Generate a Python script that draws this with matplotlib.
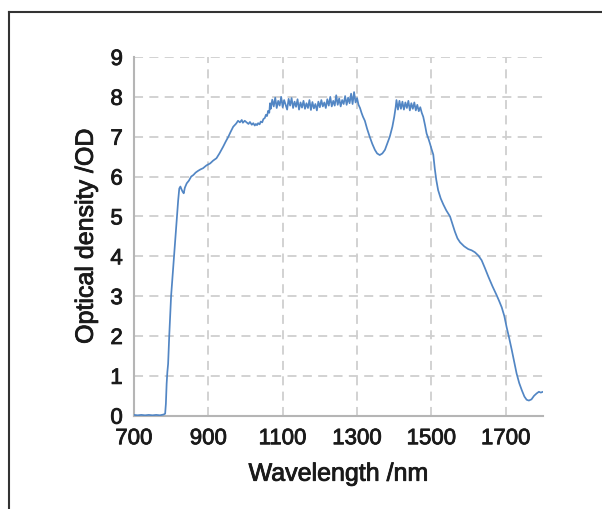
import matplotlib
matplotlib.use("Agg")
import matplotlib.pyplot as plt
from matplotlib.lines import Line2D
import matplotlib.patheffects as pe

# ---- data ----
wavelength = [
    700, 710, 720, 730, 740, 750, 760, 770, 780, 784,
    786, 788, 790, 792, 795, 800, 804, 808, 812, 816, 819, 822, 825, 828, 831, 834, 837,
    842, 848, 854, 860, 866, 872, 879, 886, 895, 905, 913, 922, 930, 940, 947, 954, 960,
    967, 975, 980, 985, 990, 993, 998, 1003, 1008, 1012, 1017, 1021, 1025, 1028, 1031,
    1034, 1038, 1041, 1045, 1048, 1052, 1055, 1058, 1061, 1064, 1066,
    1068, 1072, 1076, 1080, 1084, 1088, 1092, 1096, 1100, 1104, 1108, 1112, 1116, 1120,
    1124, 1128, 1132, 1136, 1140, 1144, 1148, 1152, 1156, 1160, 1164, 1168, 1172, 1176,
    1180, 1184, 1188, 1192, 1196, 1200, 1204, 1208, 1212, 1216, 1220, 1224, 1228, 1232,
    1236, 1240, 1244, 1248, 1252, 1256, 1260, 1264, 1268, 1272, 1276, 1280, 1284, 1288,
    1292, 1296, 1300, 1304, 1308,
    1312, 1316, 1321, 1327, 1334, 1341, 1348, 1354, 1361, 1368, 1375, 1381, 1388, 1395,
    1400, 1404,
    1406, 1410, 1414, 1418, 1422, 1426, 1430, 1434, 1438, 1442, 1446, 1450, 1454, 1458,
    1462, 1466, 1470, 1474,
    1478, 1483, 1487, 1492, 1496, 1500, 1505, 1509, 1513, 1518, 1525, 1532, 1540, 1550,
    1557, 1563, 1570, 1577, 1588, 1599, 1608, 1617, 1626, 1635, 1644, 1653, 1664, 1675,
    1682, 1689, 1696, 1702, 1709, 1716, 1723, 1729, 1736, 1743, 1750, 1756, 1762, 1769,
    1776, 1783, 1789, 1794, 1800,
]
optical_density = [
    0.02, 0.01, 0.02, 0.01, 0.02, 0.01, 0.02, 0.01, 0.03, 0.05,
    0.3, 0.8, 1.1, 1.3, 2.0, 3.0, 3.5, 4.0, 4.5, 5.0, 5.4, 5.7, 5.75, 5.68, 5.62, 5.58, 5.72,
    5.83, 5.9, 6.0, 6.04, 6.1, 6.14, 6.18, 6.21, 6.28, 6.33, 6.4, 6.46, 6.58, 6.75, 6.88, 7.0, 7.12,
    7.25, 7.33, 7.4, 7.36, 7.42, 7.35, 7.4, 7.36, 7.32, 7.37, 7.3, 7.34, 7.28, 7.32, 7.29,
    7.34, 7.31, 7.38, 7.36, 7.44, 7.47, 7.55, 7.52, 7.65, 7.6, 7.84,
    7.7, 7.93, 7.76, 7.98, 7.72, 7.9, 7.78, 8.0, 7.74, 7.92, 7.8, 7.68, 7.95, 7.78,
    7.97, 7.72, 7.88, 7.75, 7.94, 7.68, 7.86, 7.73, 7.9, 7.7, 7.84, 7.72, 7.92, 7.67,
    7.87, 7.71, 7.82, 7.66, 7.88, 7.74, 7.92, 7.76, 7.86, 7.72, 7.94, 7.78, 8.0, 7.76,
    7.9, 7.78, 8.04, 7.8, 7.96, 7.76, 7.92, 7.82, 8.02, 7.8, 7.98, 7.84, 8.08, 7.82,
    8.12, 7.86, 7.97, 7.8, 7.72,
    7.6, 7.5, 7.4, 7.2, 7.0, 6.82, 6.67, 6.58, 6.54, 6.58, 6.67, 6.82, 7.0, 7.25,
    7.5, 7.75,
    7.92, 7.68, 7.9, 7.7, 7.88, 7.68, 7.86, 7.72, 7.9, 7.66, 7.84, 7.7, 7.86, 7.66,
    7.8, 7.64, 7.74, 7.6,
    7.5, 7.28, 7.08, 6.95, 6.83, 6.7, 6.55, 6.2, 5.92, 5.66, 5.45, 5.3, 5.15, 5.0,
    4.8, 4.62, 4.45, 4.35, 4.25, 4.18, 4.15, 4.1, 4.02, 3.9, 3.7, 3.49, 3.25, 3.03,
    2.88, 2.72, 2.5, 2.23, 1.95, 1.65, 1.33, 1.06, 0.82, 0.64, 0.48, 0.4, 0.38, 0.41,
    0.5, 0.56, 0.6, 0.58, 0.6,
]
x_ticks = [700, 900, 1100, 1300, 1500, 1700]
y_ticks = [0, 1, 2, 3, 4, 5, 6, 7, 8, 9]
x_label = "Wavelength /nm"
y_label = "Optical density /OD"

plt.rcParams['font.family'] = ['Liberation Sans', 'DejaVu Sans']
text_color = '#1a1a1a'
bold_fx = [pe.withStroke(linewidth=0.6, foreground=text_color)]

fig = plt.figure(figsize=(6.02, 5.09), dpi=100)
ax = fig.add_axes([133.9 / 602, 1 - 415.7 / 509, (543 - 133.9) / 602, (415.7 - 57) / 509])

ax.plot(wavelength, optical_density, color='#5286c4', linewidth=1.25, zorder=3)

ax.set_xlim(700, 1800)
ax.set_ylim(0, 9)
ax.set_xticks(x_ticks)
ax.set_yticks(y_ticks)
ax.tick_params(axis='both', length=0, labelsize=16, colors=text_color)
ax.tick_params(axis='x', pad=9)
ax.tick_params(axis='y', pad=8)
for lbl in ax.get_xticklabels() + ax.get_yticklabels():
    lbl.set_path_effects(bold_fx)

ax.grid(True, color='#cfcfcf', linestyle=(0, (5, 3.5)), linewidth=1.3, zorder=0)
for s in ['top', 'right']:
    ax.spines[s].set_visible(False)
for s in ['left', 'bottom']:
    ax.spines[s].set_color('#b5b5b5')
    ax.spines[s].set_linewidth(1.5)

xl = ax.set_xlabel(x_label, fontsize=18, color=text_color, labelpad=9)
yl = ax.set_ylabel(y_label, fontsize=18, color=text_color, labelpad=9)
xl.set_path_effects(bold_fx)
yl.set_path_effects(bold_fx)

# outer frame (top and left edges visible)
fy = 1 - 12 / 509
fx = 9 / 602
fig.add_artist(Line2D([fx, 1.01], [fy, fy], transform=fig.transFigure, color='#333333', linewidth=1.5))
fig.add_artist(Line2D([fx, fx], [-0.01, fy], transform=fig.transFigure, color='#333333', linewidth=1.5))

fig.savefig("out.png", dpi=100)
